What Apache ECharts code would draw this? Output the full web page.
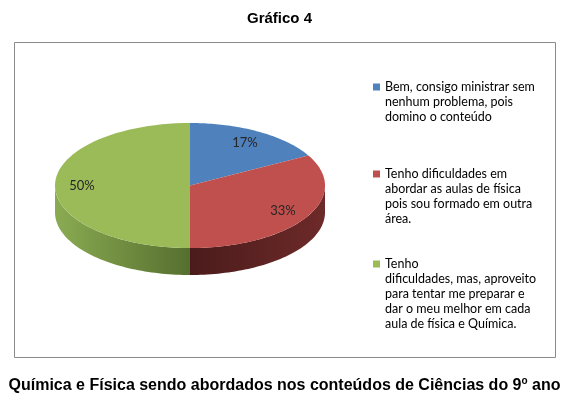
<!DOCTYPE html>
<html>
<head>
<meta charset="utf-8">
<script src="https://cdn.jsdelivr.net/npm/echarts@6/dist/echarts.min.js"></script>
<style>
html, body { margin: 0; padding: 0; background: #fff; }
#main { width: 569px; height: 397px; }
</style>
</head>
<body>
<div id="main"></div>
<script>
'use strict';

// dados do gráfico
var categories = [
    'Bem, consigo ministrar sem\nnenhum problema, pois\ndomino o conteúdo',
    'Tenho dificuldades em\nabordar as aulas de física\npois sou formado em outra\nárea.',
    'Tenho\ndificuldades, mas, aproveito\npara tentar me preparar e\ndar o meu melhor em cada\naula de física e Química.'
];
var values = [17, 33, 50];

var topColors = ['#4f81bd', '#c0504d', '#9bbb59'];
var sideColors = [['#3a5f8c', '#2b4669'], ['#4b1b1b', '#6d2a29'], ['#8aab52', '#566f2f']];
var depth = 0.43;   // espessura da pizza (unidades do eixo y)
var labelR = 0.8;
var legendTops = [49.5, 121.5, 196.5];

var total = values.reduce(function (a, b) { return a + b; }, 0);

function renderSlice(params, api) {
    var i = params.seriesIndex;
    var start = 0;
    for (var j = 0; j < i; j++) start += values[j];
    start = start / total * 360;
    var end = start + values[i] / total * 360;

    function pt(deg, r, dy) {
        var a = deg * Math.PI / 180;
        return api.coord([r * Math.sin(a), r * Math.cos(a) - (dy || 0)]);
    }
    function arc(a, b, dy) {
        var pts = [], n = 60;
        for (var k = 0; k <= n; k++) pts.push(pt(a + (b - a) * k / n, 1, dy));
        return pts;
    }

    var children = [];
    // lateral (só a parte da frente)
    var a = Math.max(start, 90), b = Math.min(end, 270);
    if (a < b) {
        var side = arc(a, b, 0).concat(arc(b, a, depth));
        children.push({
            type: 'polygon',
            shape: { points: side },
            style: {
                fill: new echarts.graphic.LinearGradient(0, 0, 1, 0, [
                    { offset: 0, color: sideColors[i][0] },
                    { offset: 1, color: sideColors[i][1] }
                ])
            }
        });
    }
    // topo
    children.push({
        type: 'polygon',
        shape: { points: [api.coord([0, 0])].concat(arc(start, end, 0)) },
        style: { fill: topColors[i] }
    });
    // rótulo
    var lp = pt((start + end) / 2, labelR, 0);
    children.push({
        type: 'text',
        x: lp[0], y: lp[1],
        style: {
            text: values[i] + '%',
            fill: '#262626',
            fontFamily: 'Lato',
            fontSize: 13,
            align: 'center',
            verticalAlign: 'middle'
        }
    });
    return { type: 'group', children: children };
}

var chart = echarts.init(document.getElementById('main'));

chart.setOption({
    animation: false,
    title: [{
        text: 'Gráfico 4',
        left: 242,
        top: 6,
        textStyle: { fontFamily: 'Liberation Sans', fontSize: 15, fontWeight: 'bold', color: '#000' }
    }, {
        text: '{a|Química e Física sendo abordados nos conteúdos de Ciências do 9}{s|o}{a| ano}',
        left: 'center',
        top: 371,
        textStyle: {
            rich: {
                a: { fontFamily: 'Liberation Sans', fontSize: 16, fontWeight: 'bold', color: '#000', lineHeight: 20 },
                s: { fontFamily: 'Liberation Sans', fontSize: 10, color: '#000', lineHeight: 20, verticalAlign: 'top' }
            }
        }
    }],
    graphic: [{
        type: 'rect',
        shape: { x: 14.5, y: 42.5, width: 541, height: 315 },
        style: { fill: 'none', stroke: '#8a8a8a', lineWidth: 1 },
        z: -1
    }],
    grid: { left: 55, width: 270, top: 123, height: 152 },
    xAxis: { type: 'value', min: -1, max: 1, show: false },
    yAxis: { type: 'value', min: -1 - depth, max: 1, show: false },
    legend: categories.map(function (name, i) {
        var lines = name.split('\n').length;
        // linhas vazias antes do texto: o marcador fica alinhado à primeira linha
        var pad = new Array(lines).join('\n');
        return {
            data: [name],
            orient: 'vertical',
            left: 373,
            top: legendTops[i],
            padding: 0,
            icon: 'rect',
            itemWidth: 7,
            itemHeight: 7,
            selectedMode: false,
            formatter: function (n) { return pad + n; },
            textStyle: {
                fontFamily: 'Lato',
                fontSize: 12.5,
                color: '#000',
                lineHeight: 15
            }
        };
    }),
    series: categories.map(function (name, i) {
        return {
            type: 'custom',
            name: name,
            coordinateSystem: 'cartesian2d',
            data: [[0, 0]],
            itemStyle: { color: topColors[i] },
            silent: true,
            renderItem: renderSlice
        };
    })
});
</script>
</body>
</html>
